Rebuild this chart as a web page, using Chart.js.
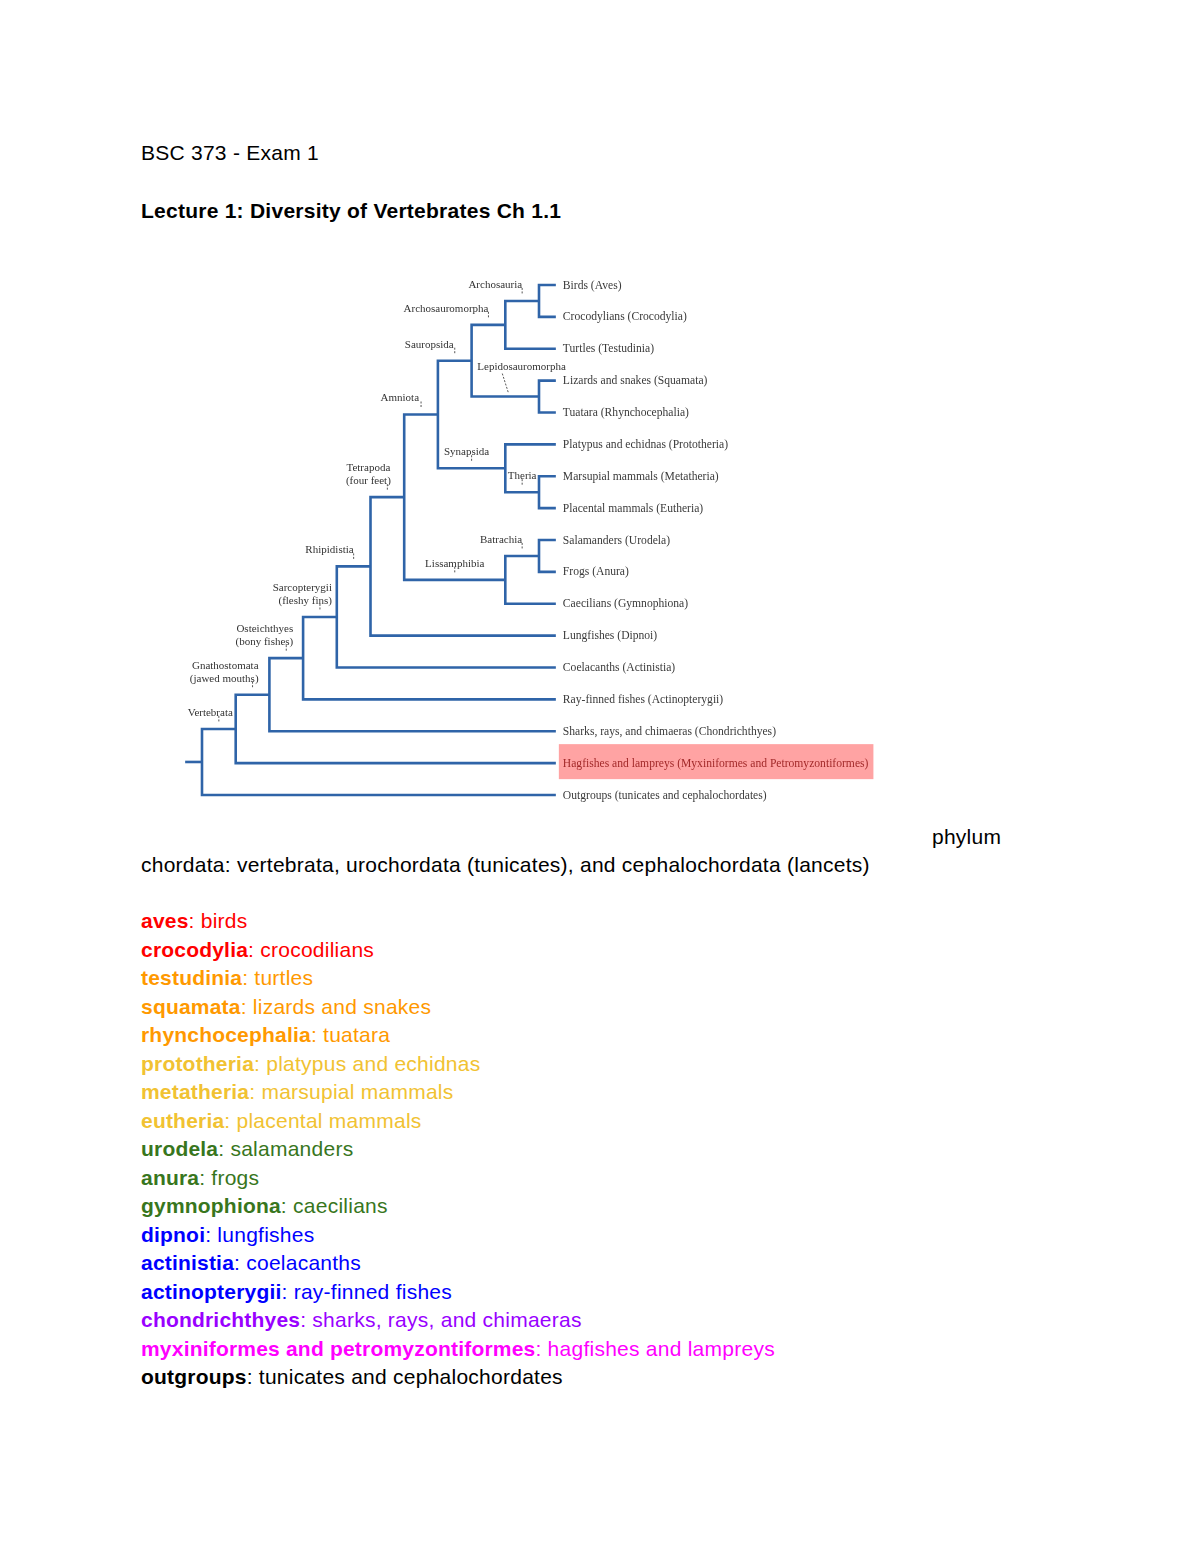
<!DOCTYPE html>
<html>
<head>
<meta charset="utf-8">
<script src="https://cdn.jsdelivr.net/npm/chart.js@4.4.1/dist/chart.umd.min.js"></script>
<style>
  html, body { margin: 0; padding: 0; background: #fff; }
  body { width: 1200px; height: 1553px; position: relative; overflow: hidden;
         font-family: "Liberation Sans", Arial, sans-serif; color: #000; }
  .line { position: absolute; left: 141px; font-size: 21px; line-height: 28.5px; white-space: nowrap; letter-spacing: 0.25px; }
  .list { position: absolute; left: 141px; top: 907px; font-size: 21px; line-height: 28.5px; letter-spacing: 0.25px; }
  .list div { white-space: nowrap; }
  .list b { letter-spacing: 0.2px; }
  #treeWrap { position: absolute; left: 150px; top: 265px; width: 750px; height: 550px; }
</style>
</head>
<body>
<div class="line" style="top:139px">BSC 373 - Exam 1</div>
<div class="line" style="top:197px;font-weight:bold">Lecture 1: Diversity of Vertebrates Ch 1.1</div>

<div id="treeWrap"><canvas id="tree" width="750" height="550"></canvas></div>

<div class="line" style="top:823px;left:932px">phylum</div>
<div class="line" style="top:851px">chordata: vertebrata, urochordata (tunicates), and cephalochordata (lancets)</div>

<div class="list" id="list"></div>

<script>
// tips of the cladogram, top to bottom
const tipNames = [
  'Birds (Aves)',
  'Crocodylians (Crocodylia)',
  'Turtles (Testudinia)',
  'Lizards and snakes (Squamata)',
  'Tuatara (Rhynchocephalia)',
  'Platypus and echidnas (Prototheria)',
  'Marsupial mammals (Metatheria)',
  'Placental mammals (Eutheria)',
  'Salamanders (Urodela)',
  'Frogs (Anura)',
  'Caecilians (Gymnophiona)',
  'Lungfishes (Dipnoi)',
  'Coelacanths (Actinistia)',
  'Ray-finned fishes (Actinopterygii)',
  'Sharks, rays, and chimaeras (Chondrichthyes)',
  'Hagfishes and lampreys (Myxiniformes and Petromyzontiformes)',
  'Outgroups (tunicates and cephalochordates)'
];
const tipDepth = 10.5;
const highlightTip = 15;

// internal nodes: name, depth (branching level), children (tip index or node name)
const nodeNames = ['root', 'Vertebrata', 'Gnathostomata', 'Osteichthyes', 'Sarcopterygii',
  'Rhipidistia', 'Tetrapoda', 'Amniota', 'Sauropsida', 'Archosauromorpha', 'Archosauria',
  'Lepidosauromorpha', 'Synapsida', 'Theria', 'Lissamphibia', 'Batrachia'];
const nodeDepths = [0, 1, 2, 3, 4, 5, 6, 7, 8, 9, 10, 10, 9, 10, 9, 10];
const nodeChildren = [
  ['Vertebrata', 16],
  ['Gnathostomata', 15],
  ['Osteichthyes', 14],
  ['Sarcopterygii', 13],
  ['Rhipidistia', 12],
  ['Tetrapoda', 11],
  ['Amniota', 'Lissamphibia'],
  ['Sauropsida', 'Synapsida'],
  ['Archosauromorpha', 'Lepidosauromorpha'],
  ['Archosauria', 2],
  [0, 1],
  [3, 4],
  [5, 'Theria'],
  [6, 7],
  ['Batrachia', 10],
  [8, 9]
];
const nodeLabels = [
  null,
  ['Vertebrata'],
  ['Gnathostomata', '(jawed mouths)'],
  ['Osteichthyes', '(bony fishes)'],
  ['Sarcopterygii', '(fleshy fins)'],
  ['Rhipidistia'],
  ['Tetrapoda', '(four feet)'],
  ['Amniota'],
  ['Sauropsida'],
  ['Archosauromorpha'],
  ['Archosauria'],
  ['Lepidosauromorpha'],
  ['Synapsida'],
  ['Theria'],
  ['Lissamphibia'],
  ['Batrachia']
];

// notes below the tree
const listTerms = ['aves', 'crocodylia', 'testudinia', 'squamata', 'rhynchocephalia',
  'prototheria', 'metatheria', 'eutheria', 'urodela', 'anura', 'gymnophiona', 'dipnoi',
  'actinistia', 'actinopterygii', 'chondrichthyes', 'myxiniformes and petromyzontiformes', 'outgroups'];
const listMeanings = ['birds', 'crocodilians', 'turtles', 'lizards and snakes', 'tuatara',
  'platypus and echidnas', 'marsupial mammals', 'placental mammals', 'salamanders', 'frogs',
  'caecilians', 'lungfishes', 'coelacanths', 'ray-finned fishes', 'sharks, rays, and chimaeras',
  'hagfishes and lampreys', 'tunicates and cephalochordates'];
const listColors = ['#ff0000', '#ff0000', '#ff9900', '#ff9900', '#ff9900', '#f1c232', '#f1c232',
  '#f1c232', '#38761d', '#38761d', '#38761d', '#0000ff', '#0000ff', '#0000ff', '#9900ff',
  '#ff00ff', '#000000'];

const list = document.getElementById('list');
listTerms.forEach((term, i) => {
  const row = document.createElement('div');
  row.style.color = listColors[i];
  const b = document.createElement('b');
  b.textContent = term;
  row.appendChild(b);
  row.appendChild(document.createTextNode(': ' + listMeanings[i]));
  list.appendChild(row);
});

// label placement: alignment of text against the little pointer, x shift
const labelAlign = {
  Vertebrata: ['right', 14], Gnathostomata: ['right', 6], Osteichthyes: ['right', 7],
  Sarcopterygii: ['right', 12], Rhipidistia: ['right', 0], Tetrapoda: ['center', -19],
  Amniota: ['right', -2], Sauropsida: ['right', -1], Archosauromorpha: ['right', 0],
  Archosauria: ['right', 0], Lepidosauromorpha: ['left', -28], Synapsida: ['center', -5],
  Theria: ['center', 0], Lissamphibia: ['center', 0], Batrachia: ['right', 0]
};

// node y = mean of its two children
const nodeY = {};
function yOf(c) {
  if (typeof c === 'number') return c;
  const i = nodeNames.indexOf(c);
  if (nodeY[c] === undefined) {
    const ys = nodeChildren[i].map(yOf);
    nodeY[c] = (ys[0] + ys[1]) / 2;
  }
  return nodeY[c];
}
function depthOf(c) {
  return typeof c === 'number' ? tipDepth : nodeDepths[nodeNames.indexOf(c)];
}
yOf('root');

const lineColor = '#2f64a8';
const datasets = nodeNames.map((n, i) => {
  const [a, b] = nodeChildren[i];
  const d = nodeDepths[i];
  return {
    data: [
      { x: depthOf(a), y: yOf(a) },
      { x: d, y: yOf(a) },
      { x: d, y: yOf(b) },
      { x: depthOf(b), y: yOf(b) }
    ]
  };
});
datasets.push({ data: [{ x: -0.5, y: nodeY.root }, { x: 0, y: nodeY.root }] });
datasets.forEach(ds => Object.assign(ds, {
  showLine: true, borderColor: lineColor, borderWidth: 2.6, pointRadius: 0,
  borderJoinStyle: 'miter', borderCapStyle: 'butt', fill: false, tension: 0
}));

const tipFont = '11.6px "Liberation Serif", serif';
const cladeFont = '11px "Liberation Serif", serif';

const labelPlugin = {
  id: 'cladeLabels',
  beforeDatasetsDraw(chart) {
    const { ctx, scales: { x, y } } = chart;
    // highlight box behind one tip
    ctx.save();
    ctx.font = tipFont;
    const ty = y.getPixelForValue(highlightTip);
    const tx = x.getPixelForValue(tipDepth);
    const w = ctx.measureText(tipNames[highlightTip]).width;
    ctx.fillStyle = '#ffa3a3';
    ctx.fillRect(tx + 3, ty - 19, w + 9, 35);
    ctx.restore();
  },
  afterDatasetsDraw(chart) {
    const { ctx, scales: { x, y } } = chart;
    ctx.save();
    ctx.font = tipFont;
    ctx.textBaseline = 'middle';
    tipNames.forEach((t, i) => {
      ctx.fillStyle = i === highlightTip ? '#a32a2a' : '#3a3a3a';
      ctx.textAlign = 'left';
      ctx.fillText(t, x.getPixelForValue(tipDepth) + 7, y.getPixelForValue(i) + 0.5);
    });
    // clade names with small pointers onto their stem branch
    ctx.font = cladeFont;
    nodeNames.forEach((n, i) => {
      const lab = nodeLabels[i];
      if (!lab) return;
      const parent = nodeNames[nodeChildren.findIndex(c => c.includes(n))];
      const x0 = x.getPixelForValue(nodeDepths[nodeNames.indexOf(parent)]);
      const x1 = x.getPixelForValue(nodeDepths[i]);
      const tick = (x0 + x1) / 2;
      const by = y.getPixelForValue(nodeY[n]);
      const [align, dx] = labelAlign[n];
      const long = n === 'Lepidosauromorpha';
      ctx.strokeStyle = '#555';
      ctx.lineWidth = 1;
      ctx.setLineDash([2, 1.5]);
      ctx.beginPath();
      if (long) { ctx.moveTo(tick - 3, by - 23); ctx.lineTo(tick + 3, by - 4); }
      else { ctx.moveTo(tick, by - 13); ctx.lineTo(tick, by - 6); }
      ctx.stroke();
      ctx.setLineDash([]);
      ctx.fillStyle = '#333';
      ctx.textAlign = align;
      const base = by - (long ? 29 : 16);
      lab.forEach((s, k) => {
        ctx.fillText(s, tick + dx, base - (lab.length - 1 - k) * 13);
      });
    });
    ctx.restore();
  }
};

new Chart(document.getElementById('tree'), {
  type: 'scatter',
  data: { datasets },
  options: {
    responsive: false,
    animation: false,
    events: [],
    layout: { padding: 0 },
    plugins: { legend: { display: false }, tooltip: { enabled: false } },
    scales: {
      x: { type: 'linear', display: false, min: -1.543, max: 20.712 },
      y: { type: 'linear', display: false, reverse: true, min: -0.627, max: 16.627 }
    }
  },
  plugins: [labelPlugin]
});
</script>
</body>
</html>
